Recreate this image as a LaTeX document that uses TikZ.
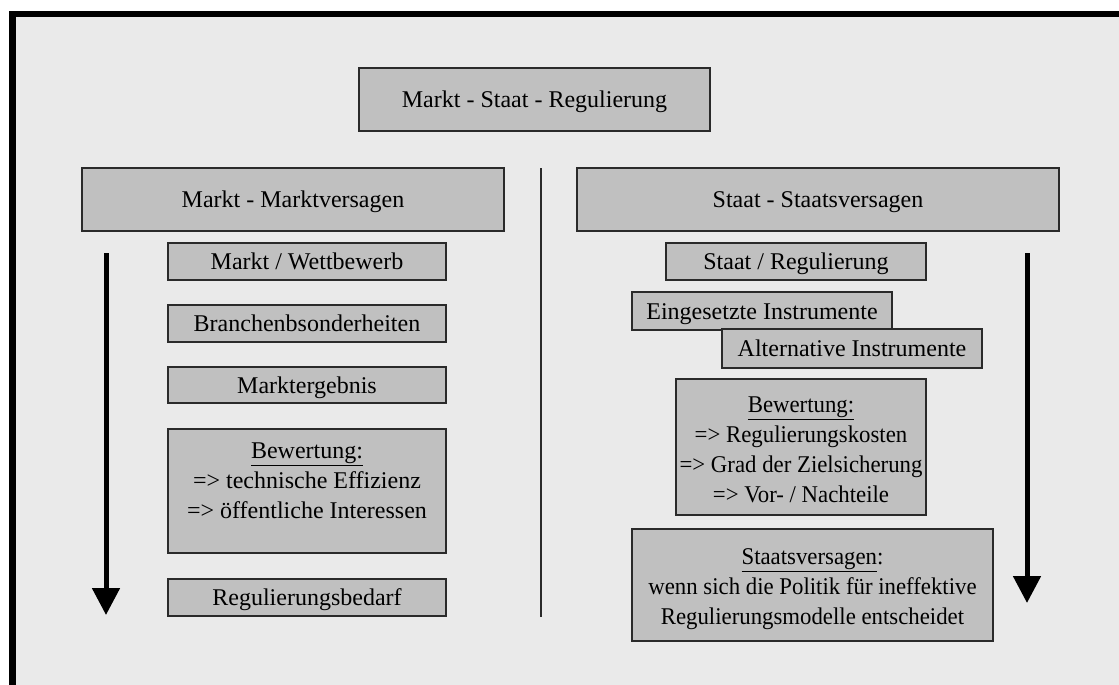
\documentclass[tikz,border=0pt]{standalone}
\usepackage{fontspec}
\setmainfont{Liberation Serif}
\newfontfamily\narrowserif[FakeStretch=0.95]{Liberation Serif}
\usetikzlibrary{arrows.meta}
\definecolor{bgfill}{HTML}{EAEAEA}
\definecolor{boxfill}{HTML}{C0C0C0}
\definecolor{boxline}{HTML}{2A2A2A}
\tikzset{
  txt/.style={font=\fontsize{24pt}{30pt}\selectfont, text=black, align=center, inner sep=0pt},
  gbox/.style={txt, draw=boxline, line width=1.2pt, fill=boxfill, rectangle},
  oneline/.style={text height=16.5pt, text depth=0pt},
  narrow/.style={font=\narrowserif\fontsize{24pt}{30pt}\selectfont},
  flowarrow/.style={line width=5pt, -{Triangle[width=27pt,length=27pt]}},
  divider/.style={draw=boxline, line width=1.4pt}
}
\begin{document}
\begin{tikzpicture}[x=1pt,y=-1pt]
\path[use as bounding box, fill=white] (0,0) rectangle (1119,685);
\begin{scope}
\clip (0,0) rectangle (1119,685);
\draw[line width=6.5pt, fill=bgfill] (12.5,14) rectangle (1140,700);
\end{scope}

% title
\node[gbox, oneline, minimum width=351pt, minimum height=63pt] (title) at (534.5,99.5) {Markt - Staat - Regulierung};

% headers
\node[gbox, oneline, minimum width=422pt, minimum height=63pt] (markt) at (293,199.5) {Markt - Marktversagen};
\node[gbox, oneline, minimum width=482pt, minimum height=63pt] (staat) at (818,199.5) {Staat - Staatsversagen};

% divider
\coordinate (divtop) at (541,168);
\coordinate (divbot) at (541,617);
\draw[divider] (divtop) -- (divbot);

% left column
\node[gbox, oneline, minimum width=278pt, minimum height=37pt] (mw) at (307,261.5) {Markt / Wettbewerb};
\node[gbox, oneline, minimum width=278pt, minimum height=37pt] (bb) at (307,323.5) {Branchenbsonderheiten};
\node[gbox, oneline, minimum width=278pt, minimum height=36pt] (me) at (307,385) {Marktergebnis};
\node[gbox, minimum width=278pt, minimum height=124pt] (bewl) at (307,491) {};
\node[txt] (bewltext) at (307,481) {\underline{Bewertung:}\\=> technische Effizienz\\=> öffentliche Interessen};
\node[gbox, oneline, minimum width=278pt, minimum height=37pt] (rb) at (307,597.5) {Regulierungsbedarf};

% right column
\node[gbox, oneline, minimum width=260pt, minimum height=37pt] (sr) at (796,261.5) {Staat / Regulierung};
\node[gbox, oneline, minimum width=260pt, minimum height=38pt] (ei) at (762,311) {Eingesetzte Instrumente};
\node[gbox, oneline, minimum width=260pt, minimum height=39pt] (ai) at (852,348.5) {Alternative Instrumente};
\node[gbox, minimum width=250pt, minimum height=136pt] (bewr) at (801,447) {};
\node[txt, narrow] (bewrtext) at (801,450) {\underline{Bewertung:}\\=> Regulierungskosten\\=> Grad der Zielsicherung\\=> Vor- / Nachteile};
\node[gbox, minimum width=361pt, minimum height=112pt] (sv) at (812.5,585) {};
\node[txt, narrow] (svtext) at (812.5,589) {\underline{Staatsversagen}:\\wenn sich die Politik für ineffektive\\Regulierungsmodelle entscheidet};

% arrows
\coordinate (la1) at (106,253);
\coordinate (la2) at (106,615);
\coordinate (ra1) at (1027,253);
\coordinate (ra2) at (1027,603);
\draw[flowarrow] (la1) -- (la2);
\draw[flowarrow] (ra1) -- (ra2);
\end{tikzpicture}
\end{document}
